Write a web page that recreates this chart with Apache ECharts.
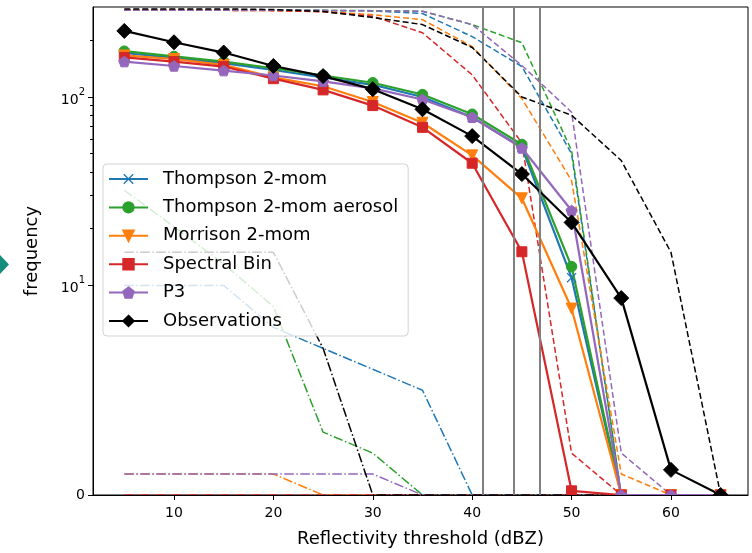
<!DOCTYPE html>
<html><head><meta charset="utf-8">
<script src="https://cdn.jsdelivr.net/npm/echarts@6/dist/echarts.min.js"></script>
<style>html,body{margin:0;padding:0;background:#fff}#c{width:752px;height:553px}</style>
</head><body><div id="c"></div>
<script>
// ---- data ----
const thresholds = [5, 10, 15, 20, 25, 30, 35, 40, 45, 50, 55, 60, 65];
const seriesNames = ['Thompson 2-mom', 'Thompson 2-mom aerosol', 'Morrison 2-mom', 'Spectral Bin', 'P3', 'Observations'];

// solid lines (markers)
const thompson2mom    = [171, 161, 151, 139, 127, 116, 100, 78, 54, 11.0, 0, 0, 0];
const thompsonAerosol = [175, 164, 154, 142, 130, 119, 103, 81, 56, 12.6, 0, 0, 0];
const morrison2mom    = [166, 159, 148, 127, 114, 94, 73, 49, 29, 8.9, 0, 0, 0];
const spectralBin     = [162, 154, 145, 125, 109, 90, 69, 44.5, 15.1, 0.2, 0, 0, 0];
const p3              = [154, 146, 138, 130, 121, 111, 97, 78, 53.6, 25, 0, 0, 0];
const observations    = [224, 195, 172, 146, 129, 110, 86, 62, 39, 21.6, 9.4, 1.2, 0];

// dashed lines (upper)
const thompson2momUpper    = [288, 288, 288, 288, 287, 286, 277, 209, 145, 50, 0, 0, 0];
const thompsonAerosolUpper = [288, 288, 288, 288, 288, 287, 285, 242, 194, 52, 0, 0, 0];
const morrison2momUpper    = [288, 288, 288, 287, 284, 273, 257, 185, 98, 36, 1, 0, 0];
const spectralBinUpper     = [288, 288, 288, 287, 283, 268, 219, 131, 57, 2, 0, 0, 0];
const p3Upper              = [288, 288, 288, 288, 288, 286, 285, 242, 147, 83, 2, 0, 0];
const observationsUpper    = [293, 293, 293, 291, 284, 264, 242, 183, 100, 80, 46, 15, 0];

// dash-dot lines (lower)
const thompson2momLower    = [10, 10, 10, 8, 7, 6, 5, 0, 0, 0, 0, 0, 0];
const thompsonAerosolLower = [32, 20.5, 13, 9, 3, 2, 0, 0, 0, 0, 0, 0, 0];
const morrison2momLower    = [1, 1, 1, 1, 0, 0, 0, 0, 0, 0, 0, 0, 0];
const spectralBinLower     = [0, 0, 0, 0, 0, 0, 0, 0, 0, 0, 0, 0, 0];
const p3Lower              = [1, 1, 1, 1, 1, 1, 0, 0, 0, 0, 0, 0, 0];
const observationsLower    = [15, 15, 15, 15, 7, 0, 0, 0, 0, 0, 0, 0, 0];

const verticalLines = [41.1, 44.2, 46.8];
const xTicks = [10, 20, 30, 40, 50, 60];
const yMajorTicks = [0, 10, 100];
const yMinorTicks = [20, 30, 40, 50, 60, 70, 80, 90, 200];
const yMaxValue = 300;

// ---- symlog transform (linthresh 10, linscale 1, base 10) ----
const LT = 10, LS = 1 / (1 - 1 / 10);
const sym = v => v <= LT ? v / LT * LS : LS + Math.log10(v / LT);
const inv = t => t <= LS ? t / LS * LT : LT * Math.pow(10, t - LS);

const solid = [thompson2mom, thompsonAerosol, morrison2mom, spectralBin, p3, observations];
const upper = [thompson2momUpper, thompsonAerosolUpper, morrison2momUpper, spectralBinUpper, p3Upper, observationsUpper];
const lower = [thompson2momLower, thompsonAerosolLower, morrison2momLower, spectralBinLower, p3Lower, observationsLower];
const colors = ['#1f77b4', '#2ca02c', '#ff7f0e', '#d62728', '#9467bd', '#000000'];
const symbols = [
  'path://M0,0.9L0.9,0L5,4.1L9.1,0L10,0.9L5.9,5L10,9.1L9.1,10L5,5.9L0.9,10L0,9.1L4.1,5Z',
  'circle',
  'path://M0,0L10,0L5,10Z',
  'rect',
  'path://M50,0L97.55,34.55L79.39,90.45L20.61,90.45L2.45,34.55Z',
  'diamond'
];
const sizes = [10, 10.5, 11, 10, 11, 15];
const FONT = 'DejaVu Sans';
const toData = arr => thresholds.map((x, i) => [x, sym(arr[i])]);

const series = [];
seriesNames.forEach((name, i) => {
  series.push({
    name: name + ' (upper)', type: 'line', data: toData(upper[i]), symbol: 'none',
    lineStyle: { color: colors[i], width: 1.5, type: [6, 3] }, z: 2, silent: true
  });
  series.push({
    name: name + ' (lower)', type: 'line', data: toData(lower[i]), symbol: 'none',
    lineStyle: { color: colors[i], width: 1.5, type: [9.5, 2.5, 1.5, 2.5] }, z: 2, silent: true
  });
});
seriesNames.forEach((name, i) => {
  series.push({
    name, type: 'line', data: toData(solid[i]), symbol: symbols[i], symbolSize: sizes[i],
    symbolKeepAspect: true, showAllSymbol: true,
    lineStyle: { color: colors[i], width: 2.2 },
    itemStyle: { color: colors[i], borderColor: colors[i], borderWidth: i === 0 ? 0 : 1, opacity: 1 },
    z: 3, silent: true
  });
});
series.push({
  name: 'thresholds', type: 'line', data: [], silent: true, z: 4,
  markLine: {
    silent: true, symbol: 'none', animation: false,
    label: { show: false },
    lineStyle: { color: '#808080', width: 2, type: 'solid' },
    data: verticalLines.map(v => ({ xAxis: v }))
  }
});

const chart = echarts.init(document.getElementById('c'), null, { renderer: 'canvas' });
chart.setOption({
  animation: false,
  backgroundColor: '#ffffff',
  grid: { left: 93, right: 4, top: 7, bottom: 58, show: true, borderColor: '#000', borderWidth: 1, containLabel: false, outerBoundsMode: 'none' },
  xAxis: {
    type: 'value', min: 1.85, max: 67.75, z: 10,
    name: 'Reflectivity threshold (dBZ)', nameLocation: 'middle', nameGap: 35,
    nameTextStyle: { fontSize: 18, color: '#000', fontFamily: FONT },
    axisLine: { show: true, lineStyle: { color: '#000', width: 1 } },
    axisTick: { show: true, length: 5, customValues: xTicks, lineStyle: { color: '#000', width: 1 } },
    axisLabel: { customValues: xTicks, fontSize: 14, color: '#000', fontFamily: FONT, margin: 11 },
    splitLine: { show: false }
  },
  yAxis: [{
    type: 'value', min: 0, max: sym(yMaxValue), z: 10,
    name: 'frequency', nameLocation: 'middle', nameGap: 52,
    nameTextStyle: { fontSize: 18, color: '#000', fontFamily: FONT },
    axisLine: { show: true, lineStyle: { color: '#000', width: 1 } },
    axisTick: { show: true, length: 5, customValues: yMajorTicks.map(sym), lineStyle: { color: '#000', width: 1 } },
    axisLabel: {
      customValues: yMajorTicks.map(sym), margin: 8, color: '#000', fontFamily: FONT, fontSize: 14,
      formatter: v => {
        if (v < 1e-6) return '0';
        const e = Math.round(Math.log10(inv(v)));
        return '{b|10}{s|' + e + '}';
      },
      rich: {
        b: { fontSize: 14, color: '#000', fontFamily: FONT, lineHeight: 20, verticalAlign: 'bottom' },
        s: { fontSize: 10, color: '#000', fontFamily: FONT, lineHeight: 12, verticalAlign: 'top' }
      }
    },
    splitLine: { show: false }
  }, {
    type: 'value', min: 0, max: sym(yMaxValue), position: 'left', z: 10,
    axisLine: { show: false },
    axisTick: { show: true, length: 3, customValues: yMinorTicks.map(sym), lineStyle: { color: '#000', width: 1 } },
    axisLabel: { show: false },
    splitLine: { show: false }
  }],
  legend: {
    data: seriesNames, orient: 'vertical', left: 103, top: 164,
    itemWidth: 39, itemHeight: 13, itemGap: 10.4,
    backgroundColor: 'rgba(255,255,255,0.8)', borderColor: '#d3d3d3', borderWidth: 1, borderRadius: 4,
    padding: [6, 10, 6, 5], selectedMode: false, z: 8,
    textStyle: { fontSize: 18, color: '#000', fontFamily: FONT, lineHeight: 13, padding: [0, 0, 0, 10] }
  },
  graphic: [
    { type: 'rect', z: 6, silent: true, shape: { x: 93.5, y: 495, width: 654.5, height: 58 }, style: { fill: '#fff' } },
    { type: 'polygon', z: 6, silent: true, shape: { points: [[0, 255], [9, 264.5], [0, 274], [-9, 264.5]] }, style: { fill: '#168c7b' } }
  ],
  series
});
</script></body></html>
